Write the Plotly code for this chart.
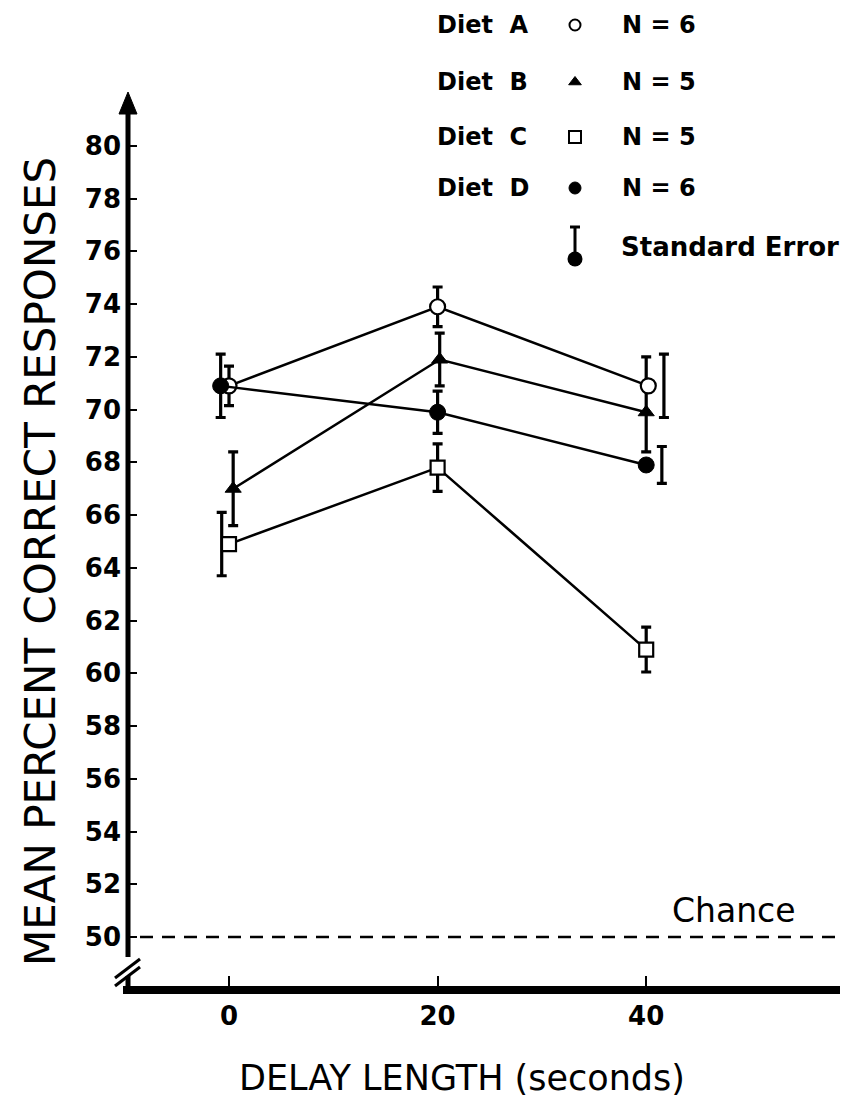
import plotly.graph_objects as go

# ---------------- data ----------------
delays = [0, 20, 40]
diet_a = [70.9, 73.9, 70.9]
diet_b = [67.0, 71.9, 69.9]
diet_c = [64.9, 67.8, 60.9]
diet_d = [70.9, 69.9, 67.9]
err_a = [0.75, 0.75, 1.2]
err_b_plus = [1.4, 1.0, 2.1]
err_b_minus = [1.4, 1.0, 1.5]
err_c = [1.2, 0.9, 0.85]
err_d = [1.2, 0.8, 0.7]
chance_level = 50
y_ticks = list(range(50, 81, 2))
x_ticks = [0, 20, 40]
legend_labels = ["Diet  A", "Diet  B", "Diet  C", "Diet  D"]
legend_n = ["N = 6", "N = 5", "N = 5", "N = 6"]

# ---------------- layout geometry (style) ----------------
W, H = 854, 1102
L, R, T, B = 128, 0, 0, 112
PW, PH = W - L - R, H - T - B
X0PX, XSCALE = 229, 10.43        # px of x=0, px per second
Y50PX, YSCALE = 937, 26.37       # px of y=50, px per percent
x_range = [(L - X0PX) / XSCALE, (W - R - X0PX) / XSCALE]
y_range = [50 - (H - B - Y50PX) / YSCALE, 50 + (Y50PX - T) / YSCALE]

# small horizontal offsets of hand-drawn markers / bars (style)
marker_dx = {"A": [0, 0, 0.2], "B": [0.4, 0.2, 0], "C": [0, 0, 0], "D": [-0.8, 0, 0]}
bar_dx = {"A": [0, 0, 1.7], "B": [0.4, 0.2, 0], "C": [-0.7, 0, 0], "D": [-0.8, 0, 1.5]}

FONT = "DejaVu Sans"


def px(x):
    return (x - L) / PW


def py(y):
    return (H - B - y) / PH


def shift(vals, dx):
    return [v + d for v, d in zip(vals, dx)]


fig = go.Figure()

series = [
    ("A", diet_a, err_a, err_a, dict(symbol="circle", size=15, color="white", line=dict(color="black", width=2.2))),
    ("B", diet_b, err_b_plus, err_b_minus, dict(symbol="triangle-up", size=14, color="black", line=dict(color="black", width=1))),
    ("C", diet_c, err_c, err_c, dict(symbol="square", size=14, color="white", line=dict(color="black", width=2.2))),
    ("D", diet_d, err_d, err_d, dict(symbol="circle", size=16, color="black", line=dict(color="black", width=1))),
]

# error bars first (below markers)
for key, vals, ep, em, _ in series:
    fig.add_trace(go.Scatter(
        x=shift(delays, bar_dx[key]), y=vals, mode="markers",
        marker=dict(size=1, color="rgba(0,0,0,0)"),
        error_y=dict(type="data", symmetric=False, array=ep, arrayminus=em,
                     color="black", thickness=3.2, width=5),
        showlegend=False, hoverinfo="skip"))

for key, vals, ep, em, mk in series:
    fig.add_trace(go.Scatter(
        x=shift(delays, marker_dx[key]), y=vals, mode="lines+markers",
        line=dict(color="black", width=2.5), marker=mk,
        name="Diet " + key, showlegend=False))

# ---------------- legend (overlay axes in pixel units) ----------------
leg_rows = [25, 82, 137, 188]
leg_sym_x = 575
leg_markers = [
    dict(symbol="circle", size=11, color="white", line=dict(color="black", width=2)),
    dict(symbol="triangle-up", size=11, color="black", line=dict(color="black", width=1)),
    dict(symbol="square", size=12, color="white", line=dict(color="black", width=2)),
    dict(symbol="circle", size=12, color="black", line=dict(color="black", width=1)),
]
for yrow, mk in zip(leg_rows, leg_markers):
    fig.add_trace(go.Scatter(x=[leg_sym_x], y=[yrow], mode="markers", marker=mk,
                             xaxis="x2", yaxis="y2", showlegend=False, hoverinfo="skip"))
fig.add_trace(go.Scatter(
    x=[leg_sym_x], y=[259], mode="markers",
    marker=dict(symbol="circle", size=15, color="black"),
    error_y=dict(type="data", symmetric=False, array=[0], arrayminus=[32],
                 color="black", thickness=3, width=5),
    xaxis="x2", yaxis="y2", showlegend=False, hoverinfo="skip"))

legend_font = dict(family=FONT, size=24, color="black", weight="bold")
annotations = []
for yrow, lab, n in zip(leg_rows, legend_labels, legend_n):
    annotations.append(dict(x=435, y=yrow, xref="x2", yref="y2", text=lab, showarrow=False,
                            xanchor="left", yanchor="middle", font=legend_font))
    annotations.append(dict(x=620, y=yrow, xref="x2", yref="y2", text=n, showarrow=False,
                            xanchor="left", yanchor="middle", font=legend_font))
annotations.append(dict(x=619, y=247, xref="x2", yref="y2", text="Standard Error", showarrow=False,
                        xanchor="left", yanchor="middle",
                        font=dict(family=FONT, size=26, color="black", weight="bold")))
annotations.append(dict(x=48.4, y=51.0, xref="x", yref="y", text="Chance", showarrow=False,
                        xanchor="center", yanchor="middle",
                        font=dict(family=FONT, size=33, color="black")))
annotations.append(dict(x=px(462), y=py(1078), xref="paper", yref="paper",
                        text="DELAY LENGTH (seconds)", showarrow=False,
                        xanchor="center", yanchor="middle",
                        font=dict(family=FONT, size=35, color="black")))
annotations.append(dict(x=px(40), y=py(562), xref="paper", yref="paper",
                        text="MEAN PERCENT CORRECT RESPONSES", showarrow=False, textangle=-90,
                        xanchor="center", yanchor="middle",
                        font=dict(family=FONT, size=42, color="black")))

# ---------------- axis decorations ----------------
shapes = [
    dict(type="line", xref="paper", yref="paper", x0=px(128), x1=px(128), y0=py(108), y1=py(957),
         line=dict(color="black", width=5)),
    dict(type="line", xref="paper", yref="paper", x0=px(128), x1=px(128), y0=py(976), y1=py(990),
         line=dict(color="black", width=5)),
    dict(type="path", xref="paper", yref="paper",
         path="M {} {} L {} {} L {} {} Z".format(px(128), py(92), px(119), py(114), px(137), py(114)),
         fillcolor="black", line=dict(color="black", width=1)),
    dict(type="line", xref="paper", yref="paper", x0=px(115), x1=px(140), y0=py(978), y1=py(959),
         line=dict(color="black", width=3)),
    dict(type="line", xref="paper", yref="paper", x0=px(115), x1=px(140), y0=py(986), y1=py(967),
         line=dict(color="black", width=3)),
    dict(type="line", xref="paper", yref="paper", x0=px(123), x1=px(840), y0=py(990), y1=py(990),
         line=dict(color="black", width=8)),
    dict(type="line", xref="paper", yref="y", x0=px(140), x1=px(842), y0=chance_level, y1=chance_level,
         line=dict(color="black", width=2.5, dash="13px,9px")),
]

fig.update_layout(
    width=W, height=H,
    margin=dict(l=L, r=R, t=T, b=B, pad=0),
    paper_bgcolor="white", plot_bgcolor="white",
    showlegend=False,
    xaxis=dict(range=x_range, tickvals=x_ticks, ticktext=[str(v) for v in x_ticks],
               ticks="inside", ticklen=14, tickwidth=2, tickcolor="black",
               showgrid=False, zeroline=False, showline=False,
               ticklabelstandoff=8,
               tickfont=dict(family=FONT, size=26, color="black", weight="bold")),
    yaxis=dict(range=y_range, tickvals=y_ticks, ticktext=[str(v) for v in y_ticks],
               ticks="inside", ticklen=9, tickwidth=2, tickcolor="black",
               showgrid=False, zeroline=False, showline=False,
               ticklabelstandoff=6,
               tickfont=dict(family=FONT, size=26, color="black", weight="bold")),
    xaxis2=dict(range=[L, W - R], overlaying="x", visible=False, fixedrange=True),
    yaxis2=dict(range=[H - B, T], overlaying="y", visible=False, fixedrange=True),
    shapes=shapes,
    annotations=annotations,
)

fig.write_html("out.html", config={"displayModeBar": False},
               post_script="document.body.style.margin='0';document.body.style.overflow='hidden';")
